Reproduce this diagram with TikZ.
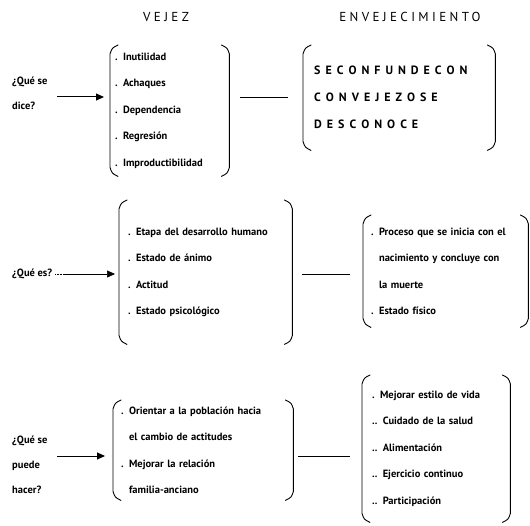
\documentclass[tikz,border=0pt]{standalone}
\usepackage{fontspec}
\setmainfont{PT Sans}
\newfontfamily\headfont{PT Sans}[LetterSpace=26]
\newcommand\widespaces{\spaceskip=5pt\relax}
\usetikzlibrary{arrows.meta,positioning}

\begin{document}
\begin{tikzpicture}[x=1pt, y=-1pt]
    \tikzstyle{heading} = [inner sep=0pt, font=\headfont\fontsize{13}{15}\selectfont]
    \tikzstyle{question} = [anchor=west, align=left, inner sep=0pt, font=\bfseries\fontsize{10.5}{25}\selectfont]
    \tikzstyle{itembox} = [rectangle, anchor=north west, inner xsep=8pt, inner ysep=0pt, align=left, font=\bfseries\fontsize{10.5}{26.5}\selectfont]
    \tikzstyle{bracket} = [line width=0.9pt, line cap=round]
    \tikzstyle{arrow} = [-{Triangle[length=8pt, width=7pt]}, line width=1pt]
    \tikzstyle{link} = [line width=0.8pt]
    \tikzstyle{leader} = [densely dotted, line width=0.5pt]

    \useasboundingbox (0,0) rectangle (530,526);

    % column headings
    \node [heading] (vejez) at (166,17) {VEJEZ};
    \node [heading] (envej) at (410,17) {ENVEJECIMIENTO};

    % what is said
    \node [question] (q1) at (12,93) {¿Qué se\\dice?};
    \node [itembox, text width=109pt, minimum height=131pt, inner xsep=5pt] (L1) at (110,45)
        {. Inutilidad\\. Achaques\\. Dependencia\\. Regresión\\. Improductibilidad};
    \node [itembox, text width=170pt, minimum height=105pt, inner xsep=11pt,
        font=\bfseries\fontsize{12}{27}\selectfont] (R1) at (303,45)
        {\widespaces S E C O N F U N D E C O N\\C O N V E J E Z O S E\\D E S C O N O C E};
    \coordinate (a1) at (57,97);

    % what it is
    \node [question] (q2) at (12,274) {¿Qué es?};
    \node [itembox, text width=155pt, minimum height=144pt, inner xsep=9pt] (L2) at (119,200)
        {. Etapa del desarrollo humano\\. Estado de ánimo\\. Actitud\\. Estado psicológico};
    \node [itembox, text width=149pt, minimum height=112pt] (R2) at (363,215)
        {. Proceso que se inicia con el\\\hphantom{. }nacimiento y concluye con\\\hphantom{. }la muerte\\. Estado físico};
    \coordinate (a2) at (64,274);

    % what can be done
    \node [question] (q3) at (12,465) {¿Qué se\\puede\\hacer?};
    \node [itembox, text width=164pt, minimum height=100pt] (L3) at (113,400)
        {. Orientar a la población hacia\\\hphantom{. }el cambio de actitudes\\. Mejorar la relación\\\hphantom{. }familia-anciano};
    \node [itembox, text width=128pt, minimum height=147pt, inner xsep=10pt] (R3) at (362,375)
        {. Mejorar estilo de vida\\.. Cuidado de la salud\\.. Alimentación\\.. Ejercicio continuo\\.. Participación};
    \coordinate (a3) at (57,456);

    % brackets round every box
    \foreach \b in {L1,R1,L2,R2,L3,R3} {
        \draw [bracket] ([xshift=8pt]\b.north west) .. controls ([xshift=2pt, yshift=-3pt]\b.north west) .. ([yshift=-9pt]\b.north west)
            -- ([yshift=9pt]\b.south west) .. controls ([xshift=2pt, yshift=3pt]\b.south west) .. ([xshift=8pt]\b.south west);
        \draw [bracket] ([xshift=-8pt]\b.north east) .. controls ([xshift=-2pt, yshift=-3pt]\b.north east) .. ([yshift=-9pt]\b.north east)
            -- ([yshift=9pt]\b.south east) .. controls ([xshift=-2pt, yshift=3pt]\b.south east) .. ([xshift=-8pt]\b.south east);
    }

    % connectors
    \draw [arrow, shorten >=6pt] (a1) -- (a1 -| L1.west);
    \draw [link, shorten <=11pt, shorten >=15pt] (a1 -| L1.east) -- (a1 -| R1.west);
    \draw [leader, shorten <=3pt] (q2.east) -- (a2);
    \draw [arrow, line width=0.6pt, shorten >=4pt] (a2) -- (a2 -| L2.west);
    \draw [link, shorten <=10pt, shorten >=13pt] (a2 -| L2.east) -- (a2 -| R2.west);
    \draw [arrow, shorten >=8pt] (a3) -- (a3 -| L3.west);
    \draw [link, shorten <=5pt, shorten >=12pt] (a3 -| L3.east) -- (a3 -| R3.west);
\end{tikzpicture}
\end{document}
